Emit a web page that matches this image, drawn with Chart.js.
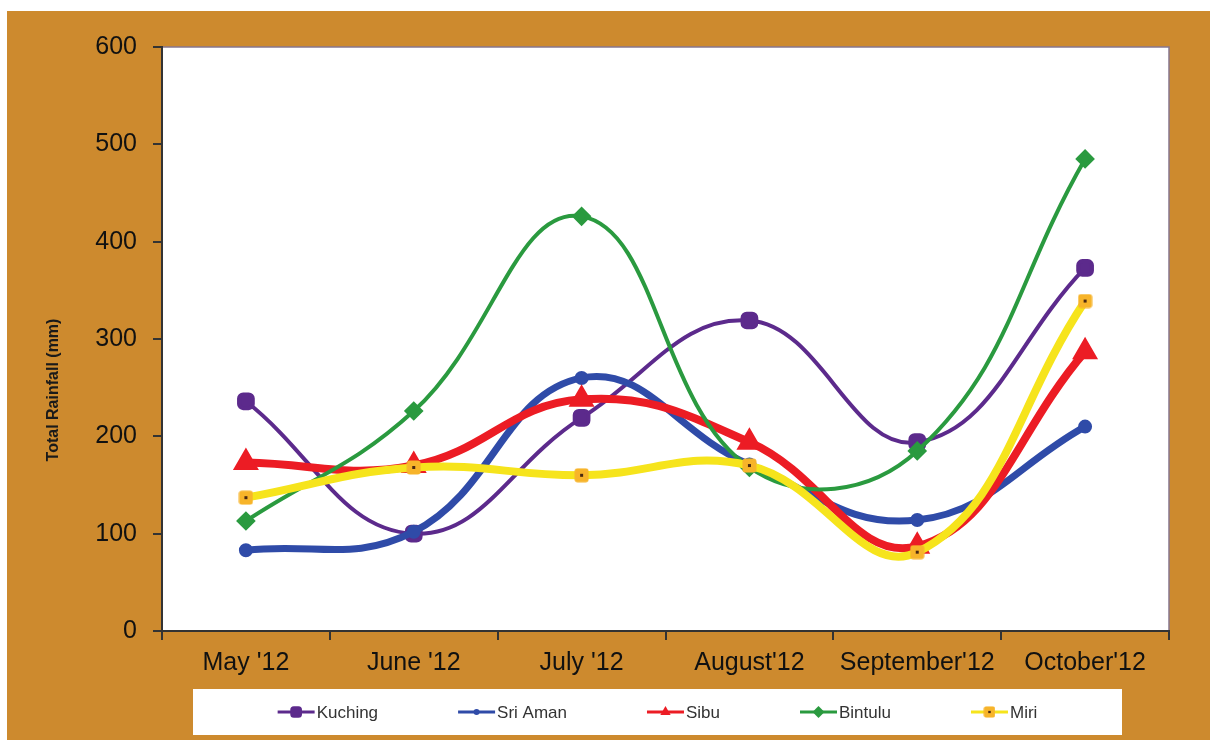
<!DOCTYPE html>
<html>
<head>
<meta charset="utf-8">
<script src="https://cdn.jsdelivr.net/npm/chart.js@4.4.1/dist/chart.umd.min.js"></script>
<style>
  html, body { margin: 0; padding: 0; background: #fff; }
  #wrap { width: 1210px; height: 740px; }
</style>
</head>
<body>
<div id="wrap"><canvas id="rainChart" width="1210" height="740"></canvas></div>
<script>
// months along the x axis
const months = ["May '12", "June '12", "July '12", "August'12", "September'12", "October'12"];

// total rainfall per station (mm)
const kuching = [236, 100, 219, 319, 194, 373];
const sriAman = [83, 102, 260, 171, 114, 210];
const sibu = [173, 170, 238, 194, 87, 287];
const bintulu = [113, 226, 426, 168, 185, 485];
const miri = [137, 168, 160, 170, 81, 339];

// y axis ticks
const yTicks = [0, 100, 200, 300, 400, 500, 600];

Chart.defaults.font.family = "'Liberation Sans', Arial, sans-serif";

/*
  @desc: orange square marker with a little dark dot, used for Miri
*/
const miriMarker = document.createElement('canvas');
miriMarker.width = 15;
miriMarker.height = 15;
(function () {
  const c = miriMarker.getContext('2d');
  c.fillStyle = '#f7b42a';
  c.beginPath();
  if (c.roundRect) { c.roundRect(0.5, 0.5, 14, 14, 3); } else { c.rect(0.5, 0.5, 14, 14); }
  c.fill();
  c.fillStyle = '#4a2810';
  c.fillRect(6, 6, 3, 3);
})();

/*
  @desc: page frame - orange panel and white plot area with a thin border
*/
const frame = {
  id: 'frame',
  beforeDraw(chart) {
    const { ctx, width, height, chartArea: a } = chart;
    ctx.save();
    ctx.fillStyle = '#fff';
    ctx.fillRect(0, 0, width, height);
    ctx.fillStyle = '#cd8a2e';
    ctx.fillRect(7, 11, width - 7, height - 11);
    ctx.fillStyle = '#fff';
    ctx.fillRect(a.left, a.top, a.right - a.left, a.bottom - a.top);
    ctx.strokeStyle = '#86778f';
    ctx.lineWidth = 1.5;
    ctx.beginPath();
    ctx.moveTo(a.left, a.top);
    ctx.lineTo(a.right, a.top);
    ctx.lineTo(a.right, a.bottom);
    ctx.stroke();
    ctx.restore();
  },
  afterDraw(chart, args, opts) {
    // y axis title, sits a bit below the middle like the original
    const ctx = chart.ctx;
    ctx.save();
    ctx.translate(opts.titleX, opts.titleY);
    ctx.rotate(-Math.PI / 2);
    ctx.font = "bold 16px 'Liberation Sans', Arial, sans-serif";
    ctx.fillStyle = '#1a1a1a';
    ctx.textAlign = 'center';
    ctx.textBaseline = 'middle';
    ctx.fillText(opts.title, 0, 0);
    ctx.restore();
  }
};

/*
  @desc: white legend box under the axis, items spaced with equal gaps
*/
const boxLegend = {
  id: 'boxLegend',
  afterDraw(chart, args, opts) {
    const ctx = chart.ctx;
    const b = opts.box;
    ctx.save();
    ctx.fillStyle = '#fff';
    ctx.fillRect(b.x, b.y, b.w, b.h);
    ctx.font = "17px 'Liberation Sans', Arial, sans-serif";
    const lineLen = 37;
    const items = chart.data.datasets.map((ds, i) => ({
      ds: ds,
      i: i,
      w: lineLen + 2 + ctx.measureText(ds.label).width
    }));
    const total = items.reduce((s, it) => s + it.w, 0) + opts.gap * (items.length - 1);
    let x = b.x + b.w / 2 - total / 2;
    const y = b.y + b.h / 2;
    for (const it of items) {
      const ds = it.ds;
      ctx.strokeStyle = ds.borderColor;
      ctx.lineWidth = 3;
      ctx.beginPath();
      ctx.moveTo(x, y);
      ctx.lineTo(x + lineLen, y);
      ctx.stroke();
      ctx.fillStyle = ds.pointBackgroundColor;
      ctx.strokeStyle = ds.pointBorderColor;
      const pOpts = {
        pointStyle: ds.pointStyle,
        rotation: 0,
        radius: ds.pointRadius * 0.85,
        borderWidth: 0
      };
      if (typeof ds.pointStyle === 'object') {
        ctx.drawImage(ds.pointStyle, x + lineLen / 2 - 6, y - 6, 12, 12);
      } else if (Chart.helpers && Chart.helpers.drawPoint) {
        Chart.helpers.drawPoint(ctx, pOpts, x + lineLen / 2, y);
      }
      ctx.fillStyle = '#333';
      ctx.textAlign = 'left';
      ctx.textBaseline = 'middle';
      ctx.fillText(ds.label, x + lineLen + 2, y + 1);
      x += it.w + opts.gap;
    }
    ctx.restore();
  }
};

const config = {
  type: 'line',
  data: {
    labels: months,
    datasets: [
      {
        label: 'Kuching',
        data: kuching,
        borderColor: '#5c2a8c',
        borderWidth: 4,
        pointStyle: 'rectRounded',
        pointRadius: 8,
        pointBackgroundColor: '#5c2a8c',
        pointBorderColor: '#5c2a8c',
        order: 5
      },
      {
        label: 'Sri Aman',
        data: sriAman,
        borderColor: '#2f4ba8',
        borderWidth: 7,
        pointStyle: 'circle',
        pointRadius: 3.5,
        pointBackgroundColor: '#2f4ba8',
        pointBorderColor: '#2f4ba8',
        order: 4
      },
      {
        label: 'Sibu',
        data: sibu,
        borderColor: '#ec1c24',
        borderWidth: 8,
        pointStyle: 'triangle',
        pointRadius: 7,
        pointBackgroundColor: '#ec1c24',
        pointBorderColor: '#ec1c24',
        order: 3
      },
      {
        label: 'Bintulu',
        data: bintulu,
        borderColor: '#2a9a3f',
        borderWidth: 4,
        pointStyle: 'rectRot',
        pointRadius: 7,
        pointBackgroundColor: '#2a9a3f',
        pointBorderColor: '#2a9a3f',
        order: 2
      },
      {
        label: 'Miri',
        data: miri,
        borderColor: '#f6e41c',
        borderWidth: 8,
        pointStyle: miriMarker,
        pointRadius: 8,
        pointBackgroundColor: '#f7b42a',
        pointBorderColor: '#f7b42a',
        order: 1
      }
    ]
  },
  options: {
    responsive: false,
    animation: false,
    devicePixelRatio: 1,
    layout: { padding: { left: 0, top: 47, right: 41, bottom: 0 } },
    elements: {
      line: { tension: 0.42, capBezierPoints: true, borderCapStyle: 'round', borderJoinStyle: 'round' },
      point: { borderWidth: 0, hoverRadius: 8 }
    },
    plugins: {
      legend: { display: false },
      tooltip: { enabled: false },
      frame: { title: 'Total Rainfall (mm)', titleX: 54, titleY: 390 },
      boxLegend: { box: { x: 193, y: 689, w: 929, h: 46 }, gap: 80 }
    },
    scales: {
      x: {
        offset: true,
        grid: { offset: true, drawOnChartArea: false, drawTicks: true, tickLength: 9, color: '#333', lineWidth: 2 },
        border: { color: '#333', width: 2 },
        ticks: { color: '#111', font: { size: 25 }, padding: 8, maxRotation: 0, autoSkip: false },
        afterFit(scale) { scale.height = 109; }
      },
      y: {
        min: yTicks[0],
        max: yTicks[yTicks.length - 1],
        grid: { drawOnChartArea: false, drawTicks: true, tickLength: 9, color: '#333', lineWidth: 2 },
        border: { color: '#333', width: 2 },
        ticks: { stepSize: yTicks[1] - yTicks[0], color: '#111', font: { size: 25 }, padding: 16 },
        afterFit(scale) { scale.width = 162; }
      }
    }
  },
  plugins: [frame, boxLegend]
};

const rainChart = new Chart(document.getElementById('rainChart'), config);
</script>
</body>
</html>
